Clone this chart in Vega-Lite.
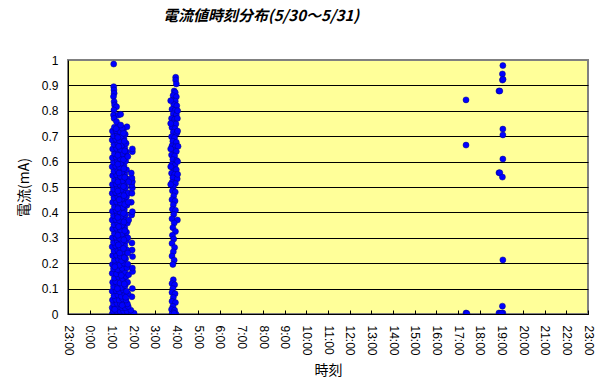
{
  "$schema": "https://vega.github.io/schema/vega-lite/v6.json",
  "width": 520,
  "height": 254,
  "autosize": "none",
  "padding": {"left": 68, "top": 60, "right": 19, "bottom": 78},
  "background": "white",
  "config": {
    "view": {"fill": "#FFFF99", "stroke": "#808080", "strokeWidth": 2},
    "font": "Liberation Sans"
  },
  "title": {
    "text": "電流値時刻分布(5/30～5/31)",
    "font": "Noto Sans CJK JP",
    "fontSize": 15,
    "fontWeight": "bold",
    "fontStyle": "italic",
    "color": "black",
    "anchor": "start",
    "frame": "group",
    "dx": 95,
    "offset": 30
  },
  "data": {
    "values": [
      {"h":1.04,"v":0},{"h":1.12,"v":0},{"h":1.2,"v":0},{"h":1.28,"v":0},{"h":1.36,"v":0},{"h":1.44,"v":0},{"h":1.52,"v":0},{"h":1.6,"v":0},{"h":1.68,"v":0},{"h":1.76,"v":0},{"h":1.84,"v":0},{"h":1.92,"v":0},{"h":2.0,"v":0},{"h":2.05,"v":0.003},
      {"h":1.08,"v":0.012},{"h":1.24,"v":0.012},{"h":1.4,"v":0.012},{"h":1.56,"v":0.012},{"h":1.72,"v":0.012},{"h":1.9,"v":0.015},
      {"h":1.04,"v":0.025},{"h":1.16,"v":0.025},{"h":1.32,"v":0.028},{"h":1.48,"v":0.025},{"h":1.64,"v":0.025},{"h":1.78,"v":0.03},
      {"h":1.1,"v":0.04},{"h":1.26,"v":0.042},{"h":1.42,"v":0.04},{"h":1.58,"v":0.045},{"h":1.74,"v":0.04},
      {"h":1.05,"v":0.055},{"h":1.2,"v":0.058},{"h":1.36,"v":0.055},{"h":1.52,"v":0.06},{"h":1.68,"v":0.055},{"h":1.95,"v":0.068},
      {"h":1.12,"v":0.072},{"h":1.3,"v":0.075},{"h":1.46,"v":0.07},{"h":1.62,"v":0.078},{"h":1.77,"v":0.08},
      {"h":1.04,"v":0.09},{"h":1.22,"v":0.092},{"h":1.38,"v":0.088},{"h":1.55,"v":0.095},{"h":1.7,"v":0.09},
      {"h":1.1,"v":0.108},{"h":1.3,"v":0.11},{"h":1.48,"v":0.105},{"h":1.64,"v":0.112},{"h":1.97,"v":0.1},
      {"h":1.06,"v":0.125},{"h":1.2,"v":0.128},{"h":1.4,"v":0.122},{"h":1.58,"v":0.13},{"h":1.75,"v":0.125},
      {"h":1.14,"v":0.142},{"h":1.34,"v":0.145},{"h":1.52,"v":0.14},{"h":1.68,"v":0.148},
      {"h":1.04,"v":0.16},{"h":1.24,"v":0.158},{"h":1.44,"v":0.162},{"h":1.62,"v":0.165},{"h":1.8,"v":0.155},{"h":1.98,"v":0.167},
      {"h":1.1,"v":0.178},{"h":1.3,"v":0.175},{"h":1.5,"v":0.18},{"h":1.72,"v":0.182},{"h":1.97,"v":0.181},
      {"h":1.05,"v":0.195},{"h":1.2,"v":0.198},{"h":1.38,"v":0.192},{"h":1.58,"v":0.2},{"h":1.76,"v":0.196},
      {"h":1.14,"v":0.212},{"h":1.32,"v":0.215},{"h":1.48,"v":0.21},{"h":1.66,"v":0.218},
      {"h":1.06,"v":0.23},{"h":1.24,"v":0.232},{"h":1.42,"v":0.228},{"h":1.6,"v":0.235},{"h":1.98,"v":0.226},
      {"h":1.12,"v":0.248},{"h":1.3,"v":0.25},{"h":1.52,"v":0.245},{"h":1.72,"v":0.252},{"h":1.96,"v":0.252},
      {"h":1.04,"v":0.265},{"h":1.2,"v":0.268},{"h":1.4,"v":0.262},{"h":1.62,"v":0.27},
      {"h":1.1,"v":0.282},{"h":1.28,"v":0.285},{"h":1.46,"v":0.28},{"h":1.68,"v":0.288},{"h":1.95,"v":0.28},
      {"h":1.05,"v":0.3},{"h":1.22,"v":0.302},{"h":1.38,"v":0.298},{"h":1.56,"v":0.305},{"h":1.76,"v":0.3},
      {"h":1.14,"v":0.318},{"h":1.32,"v":0.32},{"h":1.5,"v":0.315},{"h":1.7,"v":0.322},
      {"h":1.06,"v":0.335},{"h":1.24,"v":0.338},{"h":1.42,"v":0.332},{"h":1.62,"v":0.34},
      {"h":1.12,"v":0.352},{"h":1.3,"v":0.355},{"h":1.5,"v":0.35},{"h":1.74,"v":0.358},
      {"h":1.04,"v":0.37},{"h":1.2,"v":0.372},{"h":1.38,"v":0.368},{"h":1.58,"v":0.375},{"h":1.8,"v":0.37},
      {"h":1.1,"v":0.388},{"h":1.28,"v":0.39},{"h":1.46,"v":0.385},{"h":1.66,"v":0.392},{"h":1.94,"v":0.39},
      {"h":1.05,"v":0.405},{"h":1.22,"v":0.408},{"h":1.4,"v":0.402},{"h":1.6,"v":0.41},{"h":1.97,"v":0.403},
      {"h":1.14,"v":0.422},{"h":1.32,"v":0.425},{"h":1.52,"v":0.42},{"h":1.72,"v":0.428},
      {"h":1.06,"v":0.44},{"h":1.24,"v":0.442},{"h":1.42,"v":0.438},{"h":1.62,"v":0.445},{"h":1.92,"v":0.44},
      {"h":1.12,"v":0.458},{"h":1.3,"v":0.46},{"h":1.5,"v":0.455},{"h":1.7,"v":0.462},
      {"h":1.04,"v":0.475},{"h":1.2,"v":0.478},{"h":1.38,"v":0.472},{"h":1.58,"v":0.48},{"h":1.78,"v":0.476},{"h":1.95,"v":0.475},
      {"h":1.1,"v":0.492},{"h":1.28,"v":0.495},{"h":1.46,"v":0.49},{"h":1.66,"v":0.498},{"h":1.97,"v":0.496},
      {"h":1.05,"v":0.51},{"h":1.22,"v":0.512},{"h":1.4,"v":0.508},{"h":1.6,"v":0.515},{"h":1.94,"v":0.508},
      {"h":1.14,"v":0.528},{"h":1.32,"v":0.53},{"h":1.52,"v":0.525},{"h":1.72,"v":0.532},{"h":1.97,"v":0.521},
      {"h":1.06,"v":0.545},{"h":1.24,"v":0.548},{"h":1.42,"v":0.542},{"h":1.62,"v":0.55},{"h":1.95,"v":0.535},
      {"h":1.12,"v":0.562},{"h":1.3,"v":0.565},{"h":1.5,"v":0.56},{"h":1.7,"v":0.568},{"h":1.92,"v":0.555},
      {"h":1.04,"v":0.58},{"h":1.2,"v":0.582},{"h":1.38,"v":0.578},{"h":1.58,"v":0.585},
      {"h":1.1,"v":0.598},{"h":1.28,"v":0.6},{"h":1.46,"v":0.595},{"h":1.66,"v":0.602},
      {"h":1.05,"v":0.615},{"h":1.22,"v":0.618},{"h":1.4,"v":0.612},{"h":1.6,"v":0.62},
      {"h":1.14,"v":0.632},{"h":1.32,"v":0.635},{"h":1.52,"v":0.63},{"h":1.7,"v":0.638},{"h":1.97,"v":0.639},
      {"h":1.06,"v":0.65},{"h":1.24,"v":0.652},{"h":1.42,"v":0.648},{"h":1.62,"v":0.655},{"h":1.97,"v":0.65},
      {"h":1.12,"v":0.668},{"h":1.3,"v":0.67},{"h":1.5,"v":0.665},{"h":1.68,"v":0.672},
      {"h":1.04,"v":0.685},{"h":1.2,"v":0.688},{"h":1.38,"v":0.682},{"h":1.58,"v":0.69},
      {"h":1.1,"v":0.702},{"h":1.28,"v":0.705},{"h":1.46,"v":0.7},{"h":1.64,"v":0.708},
      {"h":1.05,"v":0.72},{"h":1.22,"v":0.722},{"h":1.4,"v":0.718},{"h":1.56,"v":0.725},
      {"h":1.14,"v":0.735},{"h":1.3,"v":0.738},{"h":1.72,"v":0.737},
      {"h":1.16,"v":0.018},{"h":1.5,"v":0.034},{"h":1.66,"v":0.066},{"h":1.28,"v":0.1},{"h":1.6,"v":0.118},{"h":1.46,"v":0.152},{"h":1.16,"v":0.186},
      {"h":1.6,"v":0.222},{"h":1.38,"v":0.24},{"h":1.56,"v":0.258},{"h":1.32,"v":0.272},{"h":1.58,"v":0.292},{"h":1.3,"v":0.31},{"h":1.62,"v":0.328},
      {"h":1.34,"v":0.344},{"h":1.58,"v":0.362},{"h":1.3,"v":0.38},{"h":1.56,"v":0.396},{"h":1.3,"v":0.415},{"h":1.62,"v":0.432},{"h":1.36,"v":0.45},
      {"h":1.58,"v":0.466},{"h":1.3,"v":0.484},{"h":1.56,"v":0.502},{"h":1.3,"v":0.52},{"h":1.62,"v":0.538},{"h":1.36,"v":0.555},{"h":1.58,"v":0.572},
      {"h":1.3,"v":0.59},{"h":1.56,"v":0.608},{"h":1.3,"v":0.625},{"h":1.62,"v":0.642},{"h":1.34,"v":0.66},{"h":1.6,"v":0.68},{"h":1.3,"v":0.695},
      {"h":1.56,"v":0.712},{"h":1.22,"v":0.73},{"h":1.5,"v":0.732},{"h":1.76,"v":0.24},{"h":1.78,"v":0.44},{"h":1.76,"v":0.62},{"h":1.8,"v":0.52},
      {"h":1.11,"v":0.984},{"h":1.11,"v":0.895},{"h":1.12,"v":0.882},{"h":1.13,"v":0.869},{"h":1.1,"v":0.856},{"h":1.13,"v":0.836},{"h":1.15,"v":0.823},{"h":1.24,"v":0.816},{"h":1.12,"v":0.803},{"h":1.1,"v":0.783},{"h":1.32,"v":0.783},{"h":1.43,"v":0.786},{"h":1.13,"v":0.77},{"h":1.24,"v":0.757},{"h":1.43,"v":0.744},
      {"h":3.97,"v":0.932},{"h":3.97,"v":0.921},{"h":4.0,"v":0.906},
      {"h":3.9,"v":0.878},{"h":3.95,"v":0.872},{"h":3.85,"v":0.86},{"h":4.0,"v":0.855},{"h":3.82,"v":0.842},{"h":3.95,"v":0.838},
      {"h":3.88,"v":0.825},{"h":4.02,"v":0.82},{"h":3.8,"v":0.806},{"h":3.94,"v":0.802},{"h":3.86,"v":0.788},{"h":4.0,"v":0.784},
      {"h":3.78,"v":0.77},{"h":3.92,"v":0.766},{"h":4.05,"v":0.77},{"h":3.84,"v":0.752},{"h":3.98,"v":0.748},{"h":3.8,"v":0.734},{"h":3.94,"v":0.73},
      {"h":3.86,"v":0.716},{"h":4.02,"v":0.712},{"h":3.78,"v":0.698},{"h":3.92,"v":0.694},{"h":3.84,"v":0.68},{"h":4.0,"v":0.676},
      {"h":3.8,"v":0.662},{"h":3.95,"v":0.658},{"h":4.08,"v":0.66},{"h":3.86,"v":0.644},{"h":4.0,"v":0.64},{"h":3.78,"v":0.626},{"h":3.92,"v":0.622},
      {"h":3.84,"v":0.608},{"h":4.02,"v":0.604},{"h":3.8,"v":0.59},{"h":3.94,"v":0.586},{"h":3.86,"v":0.572},{"h":4.0,"v":0.568},
      {"h":3.78,"v":0.554},{"h":3.92,"v":0.55},{"h":3.84,"v":0.536},{"h":4.04,"v":0.532},{"h":3.8,"v":0.518},{"h":3.96,"v":0.514},{"h":3.86,"v":0.5},
      {"h":3.74,"v":0.84},{"h":4.06,"v":0.8},{"h":3.74,"v":0.75},{"h":4.06,"v":0.72},{"h":3.74,"v":0.65},{"h":4.06,"v":0.6},{"h":3.74,"v":0.58},{"h":4.06,"v":0.55},{"h":3.74,"v":0.51},
      {"h":3.82,"v":0.485},{"h":3.95,"v":0.48},{"h":3.88,"v":0.465},{"h":3.8,"v":0.45},{"h":3.94,"v":0.445},{"h":3.86,"v":0.43},
      {"h":3.82,"v":0.412},{"h":3.96,"v":0.408},{"h":3.88,"v":0.392},{"h":3.8,"v":0.375},{"h":4.05,"v":0.37},{"h":3.9,"v":0.358},{"h":3.84,"v":0.34},
      {"h":3.96,"v":0.325},{"h":3.82,"v":0.31},{"h":3.88,"v":0.295},{"h":3.8,"v":0.278},{"h":3.92,"v":0.262},{"h":3.86,"v":0.245},
      {"h":3.8,"v":0.228},{"h":3.9,"v":0.212},{"h":3.84,"v":0.195},
      {"h":3.86,"v":0.135},{"h":3.8,"v":0.12},{"h":3.92,"v":0.115},{"h":3.84,"v":0.1},{"h":3.8,"v":0.085},{"h":3.94,"v":0.08},
      {"h":3.86,"v":0.065},{"h":3.8,"v":0.05},{"h":3.96,"v":0.045},{"h":3.84,"v":0.03},{"h":3.78,"v":0.018},{"h":3.92,"v":0.015},{"h":3.86,"v":0.005},{"h":3.8,"v":0},{"h":3.98,"v":0},{"h":3.9,"v":0.002},
      {"h":17.37,"v":0.843},{"h":17.37,"v":0.665},{"h":17.37,"v":0.004},{"h":17.41,"v":0.002},
      {"h":18.89,"v":0.878},{"h":18.93,"v":0.878},{"h":19.07,"v":0.978},{"h":19.05,"v":0.945},{"h":19.05,"v":0.921},{"h":19.08,"v":0.924},
      {"h":19.07,"v":0.728},{"h":19.07,"v":0.705},{"h":19.07,"v":0.61},{"h":18.89,"v":0.556},{"h":18.93,"v":0.556},{"h":19.05,"v":0.539},
      {"h":19.07,"v":0.213},{"h":19.05,"v":0.031},{"h":18.89,"v":0.004},{"h":18.95,"v":0.003},{"h":19.07,"v":0.004},{"h":19.01,"v":0.003}
    ]
  },
  "mark": {"type": "point", "shape": "circle", "filled": true, "size": 36, "color": "#0000FF", "stroke": "#00008B", "strokeWidth": 0.5, "opacity": 1, "clip": true},
  "encoding": {
    "x": {
      "field": "h",
      "type": "quantitative",
      "scale": {"domain": [-1, 23], "nice": false, "zero": false},
      "axis": {
        "title": "時刻",
        "titleFont": "Noto Sans CJK JP",
        "titleFontSize": 14,
        "titleFontWeight": "normal",
        "titleColor": "black",
        "titlePadding": 8,
        "values": [-1,0,1,2,3,4,5,6,7,8,9,10,11,12,13,14,15,16,17,18,19,20,21,22,23],
        "labelExpr": "((datum.value + 24) % 24) + ':00'",
        "labelAngle": 90,
        "labelFont": "Liberation Sans",
        "labelFontSize": 12,
        "labelColor": "black",
        "labelPadding": 15,
        "labelFlush": false,
        "labelOverlap": false,
        "tickSize": -4,
        "tickColor": "black",
        "domainColor": "black",
        "grid": false
      }
    },
    "y": {
      "field": "v",
      "type": "quantitative",
      "scale": {"domain": [0, 1], "nice": false},
      "axis": {
        "title": "電流(mA)",
        "titleFont": "Noto Sans CJK JP",
        "titleFontSize": 14,
        "titleFontWeight": "normal",
        "titleColor": "black",
        "titlePadding": 10,
        "values": [0,0.1,0.2,0.3,0.4,0.5,0.6,0.7,0.8,0.9,1],
        "format": "~g",
        "labelFont": "Liberation Sans",
        "labelFontSize": 12,
        "labelColor": "black",
        "labelPadding": 10,
        "ticks": false,
        "domainColor": "black",
        "grid": true,
        "gridColor": {"condition": {"test": "datum.value == 1", "value": "#808080"}, "value": "black"},
        "gridOpacity": 1
      }
    }
  }
}
